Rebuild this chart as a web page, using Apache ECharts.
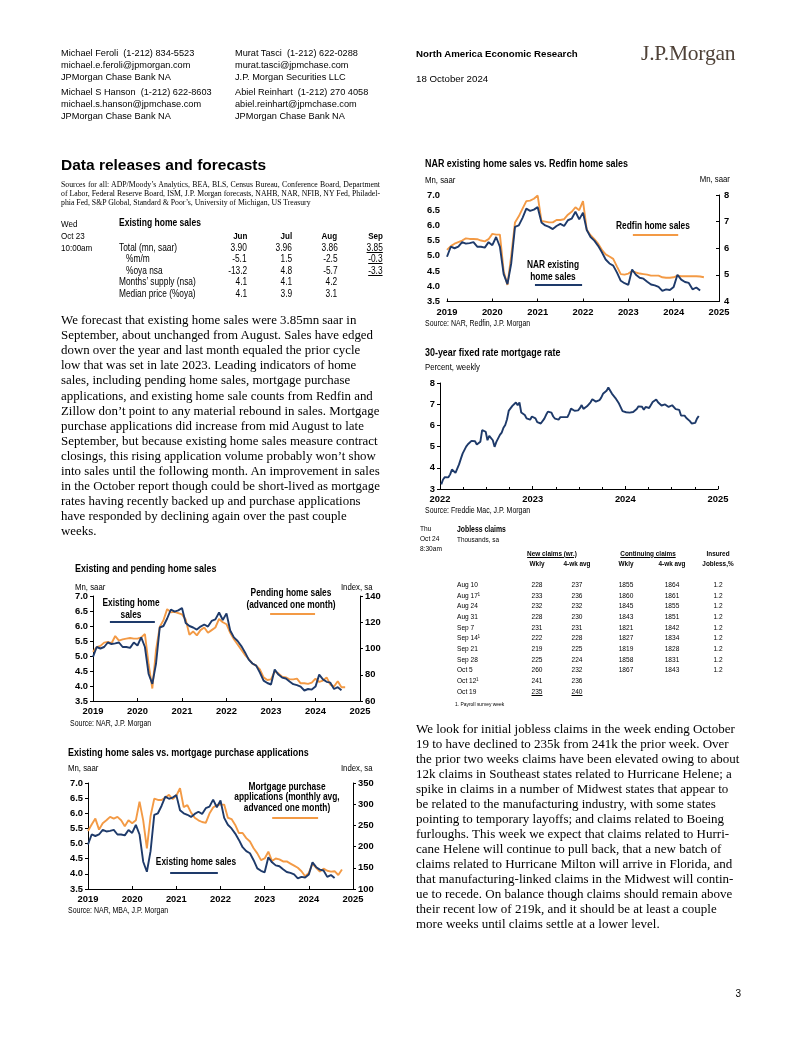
<!DOCTYPE html>
<html><head><meta charset="utf-8">
<script src="https://cdn.jsdelivr.net/npm/echarts@6/dist/echarts.min.js"></script>
<style>
html,body{margin:0;padding:0;background:#fff;}
#page{position:relative;width:802px;height:1037px;overflow:hidden;background:#fff;}
#chart{position:absolute;left:0;top:0;width:802px;height:1037px;}
.t{position:absolute;white-space:nowrap;font-family:'Liberation Sans',Arial,sans-serif;color:#000;}
.s{font-family:'Liberation Serif','Times New Roman',serif;}
.b{font-weight:bold;}
.u{text-decoration:underline;}
</style></head><body>
<div id="page"><div id="chart"></div></div>
<script>
// ---------------- DATA ----------------
// Existing home sales, NAR, Mn saar, monthly from 2019-01
const existingStart = '2019-01';
const existingSales = [
  4.97, 5.30, 5.25, 5.30, 5.45, 5.40, 5.42, 5.45, 5.30, 5.30, 5.27, 5.45,
  5.35, 5.62, 5.30, 4.40, 4.07, 4.75, 5.95, 6.00, 6.25, 6.55, 6.48, 6.52,
  6.60, 6.10, 6.00, 5.95, 5.88, 5.98, 6.05, 5.98, 6.17, 6.22, 6.45, 6.20,
  6.42, 5.85, 5.62, 5.50, 5.33, 5.12, 4.88, 4.75, 4.68, 4.45, 4.18, 4.10,
  4.05, 4.55, 4.38, 4.28, 4.25, 4.15, 4.06, 4.03, 3.98, 3.85, 3.90, 3.88,
  3.98, 4.38, 4.22, 4.14, 4.11, 3.90, 3.96, 3.86
];
// Pending home sales index (advanced one month), monthly from 2019-01
const pendingStart = '2019-01';
const pendingSales = [
  97.5, 101, 102, 104.5, 105, 104, 109.5, 106, 107, 107.5, 108, 107.5,
  107.5, 108.5, 111, 88, 69.5, 99, 116.5, 121.5, 130, 127.5, 128, 127,
  126, 122, 110.5, 113, 110, 114, 116, 112, 114, 116, 122.5, 120,
  118.5, 112, 107, 103, 99, 95, 92, 88.5, 87, 84, 78, 76,
  76.5, 82.5, 81, 78.5, 78, 76.5, 76.5, 77, 73.5, 73.5, 73, 74,
  77, 74.5, 75.5, 78, 72.5, 71, 75, 70.5, 70.5
];
// MBA purchase applications index (monthly avg, advanced one month), from 2019-01
const mbaStart = '2019-01';
const mbaPurchase = [
  237, 252, 266, 240, 255, 262, 270, 266, 270, 262, 248, 262,
  255, 262, 306, 262, 196, 272, 313, 310, 310, 316, 322, 312,
  320, 338, 293, 298, 280, 268, 262, 258, 256, 278, 292, 298,
  299, 299, 268, 265, 251, 232, 232, 220, 212, 196, 184, 168,
  172, 188, 166, 172, 170, 165, 165, 160, 155, 150, 142, 130,
  138, 160, 150, 141, 148, 143, 141, 142, 133, 146
];
// Redfin home sales, Mn saar (right axis), monthly from 2019-01
const redfinStart = '2019-01';
const redfinSales = [
  5.94, 6.08, 6.17, 6.23, 6.29, 6.37, 6.35, 6.35, 6.34, 6.29, 6.26, 6.34,
  6.54, 6.51, 6.51, 5.14, 4.62, 5.71, 6.97, 7.20, 7.49, 7.77, 7.79, 7.86,
  7.98, 7.03, 7.00, 6.97, 6.97, 7.06, 7.06, 7.09, 7.26, 7.37, 7.54, 7.43,
  7.77, 6.69, 6.49, 6.34, 6.17, 5.94, 5.77, 5.69, 5.60, 5.31, 5.03, 5.01,
  5.05, 5.14, 5.09, 5.05, 5.03, 5.01, 4.97, 4.97, 4.97, 4.91, 4.89, 4.89,
  4.91, 4.97, 4.95, 4.95, 4.95, 4.95, 4.95, 4.94, 4.91
];
// 30-year fixed mortgage rate, percent, weekly from 2022-01-06
const rateStart = '2022-01-06';
const mortgageRate = [
  3.22,3.45,3.56,3.55,3.55,3.69,3.92,3.89,3.76,3.85,4.16,4.42,4.67,4.72,5.00,5.11,5.10,5.27,5.30,5.25,
  5.10,5.09,5.23,5.78,5.81,5.70,5.30,5.51,5.54,5.30,4.99,5.22,5.13,5.55,5.66,5.89,6.02,6.29,6.70,6.66,
  6.92,6.94,7.08,6.95,7.08,6.61,6.58,6.49,6.33,6.31,6.27,6.42,
  6.48,6.33,6.15,6.13,6.09,6.12,6.32,6.50,6.65,6.73,6.60,6.42,6.32,6.28,6.27,6.39,6.43,6.39,6.35,6.39,
  6.57,6.79,6.71,6.69,6.67,6.71,6.81,6.96,6.78,6.81,6.90,6.96,7.09,7.23,7.18,7.12,7.18,7.19,7.31,7.49,
  7.57,7.63,7.79,7.76,7.50,7.44,7.29,7.22,7.03,6.95,6.67,6.61,
  6.62,6.66,6.60,6.69,6.63,6.64,6.77,6.90,6.94,6.88,6.74,6.87,6.79,6.82,6.88,7.10,7.17,7.22,7.09,7.02,
  6.94,7.03,6.99,6.95,6.87,6.86,6.95,6.89,6.77,6.78,6.73,6.47,6.49,6.46,6.35,6.35,6.20,6.09,6.08,6.12,
  6.32,6.44
];
// Tables
const ehsMonths = ['Jun','Jul','Aug','Sep'];
const ehsRowLabels = ['Total (mn, saar)','%m/m','%oya nsa','Months\u2019 supply (nsa)','Median price (%oya)'];
const ehsValues = [
  ['3.90','3.96','3.86','3.85'],
  ['-5.1','1.5','-2.5','-0.3'],
  ['-13.2','4.8','-5.7','-3.3'],
  ['4.1','4.1','4.2',''],
  ['4.1','3.9','3.1','']
];
const jcDates = ['Aug 10','Aug 17\u00b9','Aug 24','Aug 31','Sep 7','Sep 14\u00b9','Sep 21','Sep 28','Oct 5','Oct 12\u00b9','Oct 19'];
const jcNewWkly = ['228','233','232','228','231','222','219','225','260','241','235'];
const jcNew4wk = ['237','236','232','230','231','228','225','224','232','236','240'];
const jcContWkly = ['1855','1860','1845','1843','1821','1827','1819','1858','1867'];
const jcCont4wk = ['1864','1861','1855','1851','1842','1834','1828','1831','1843'];
const jcInsured = ['1.2','1.2','1.2','1.2','1.2','1.2','1.2','1.2','1.2'];
const yearTicks1 = [2019, 2025];
const yearTicks2 = [2022, 2025];

// ---------------- TEXT ----------------
const page = document.getElementById('page');
const NSCALE = 0.82; // emulate a narrow face
function T(x, yc, html, fs, cls, align, extra) {
  const d = document.createElement('div');
  cls = cls || '';
  const narrow = / ?n( |$)/.test(cls);
  d.className = 't ' + cls.replace(/(^| )n( |$)/, ' ');
  d.innerHTML = html;
  d.style.fontSize = fs + 'px';
  d.style.lineHeight = fs + 'px';
  d.style.top = (yc - fs / 2) + 'px';
  let tf = '', origin = 'left center';
  if (align === 'r') { d.style.right = (802 - x) + 'px'; origin = 'right center'; }
  else if (align === 'c') { d.style.left = x + 'px'; tf = 'translateX(-50%)'; origin = 'center center'; }
  else d.style.left = x + 'px';
  if (narrow) tf += ' scaleX(' + NSCALE + ')';
  if (tf) { d.style.transform = tf; d.style.transformOrigin = origin; }
  if (extra) Object.assign(d.style, extra);
  page.appendChild(d);
  return d;
}
function P(x, y0, lh, lines, fs, cls, align) {
  return lines.map((l, i) => T(x, y0 + i * lh, l, fs, cls, align));
}
// header
P(61, 54, 11.9, ['Michael Feroli&nbsp; (1-212) 834-5523','michael.e.feroli@jpmorgan.com','JPMorgan Chase Bank NA'], 9.2, '');
P(61, 92.5, 11.9, ['Michael S Hanson&nbsp; (1-212) 622-8603','michael.s.hanson@jpmchase.com','JPMorgan Chase Bank NA'], 9.2, '');
P(235, 54, 11.9, ['Murat Tasci&nbsp; (1-212) 622-0288','murat.tasci@jpmchase.com','J.P. Morgan Securities LLC'], 9.2, '');
P(235, 92.5, 11.9, ['Abiel Reinhart&nbsp; (1-212) 270 4058','abiel.reinhart@jpmchase.com','JPMorgan Chase Bank NA'], 9.2, '');
T(416, 54, 'North America Economic Research', 9.7, 'b');
T(416, 79, '18 October 2024', 9.7, '');
T(641, 54, 'J.P.Morgan', 21.5, 's', null, {color:'#4f4238', letterSpacing:'-0.2px'});
// section
T(61, 165, 'Data releases and forecasts', 15.5, 'b');
const src = [
  'Sources for all: ADP/Moody\u2019s Analytics, BEA, BLS, Census Bureau, Conference Board, Department',
  'of Labor, Federal Reserve Board, ISM, J.P. Morgan forecasts, NAHB, NAR, NFIB, NY Fed, Philadel-',
  'phia Fed, S&amp;P Global, Standard &amp; Poor\u2019s, University of Michigan, US Treasury'
];
const srcEls = P(61, 185.5, 8.7, src, 8.2, 's');
(function fitSources() {
  const target = 319;
  const w0 = srcEls[0].getBoundingClientRect().width;
  const fs = Math.min(9, 8.2 * (target - 4) / w0);
  srcEls.forEach((el, i) => { el.style.fontSize = fs + 'px'; });
  [0, 1].forEach(i => {
    const el = srcEls[i];
    const w = el.getBoundingClientRect().width;
    const spaces = (el.textContent.match(/ /g) || []).length;
    if (spaces) el.style.wordSpacing = ((target - w) / spaces) + 'px';
  });
})();
// existing home sales table
T(61, 224, 'Wed', 9.8, 'n'); T(61, 235.5, 'Oct 23', 9.8, 'n'); T(61, 248, '10:00am', 9.8, 'n');
T(119, 223, 'Existing home sales', 10.4, 'n b');
const ehsRight = [247, 292, 337.5, 383];
ehsMonths.forEach((m, j) => T(ehsRight[j], 235.5, m, 9.8, 'n b', 'r'));
const ehsY = [248, 259.5, 271, 282.5, 294];
const ehsX = [118.5, 125.5, 125.5, 118.5, 118.5];
ehsRowLabels.forEach((l, i) => {
  T(ehsX[i], ehsY[i], l, 10.2, 'n');
  ehsValues[i].forEach((v, j) => { if (v) T(ehsRight[j], ehsY[i], v, 10.2, 'n' + (j === 3 ? ' u' : ''), 'r'); });
});
// paragraph 1
P(61, 320.5, 15.1, [
  'We forecast that existing home sales were 3.85mn saar in',
  'September, about unchanged from August. Sales have edged',
  'down over the year and last month equaled the prior cycle',
  'low that was set in late 2023. Leading indicators of home',
  'sales, including pending home sales, mortgage purchase',
  'applications, and existing home sale counts from Redfin and',
  'Zillow don\u2019t point to any material rebound in sales. Mortgage',
  'purchase applications did increase from mid August to late',
  'September, but because existing home sales measure contract',
  'closings, this rising application volume probably won\u2019t show',
  'into sales until the following month. An improvement in sales',
  'in the October report though could be short-lived as mortgage',
  'rates having recently backed up and purchase applications',
  'have responded by declining again over the past couple',
  'weeks.'
], 12.9, 's');
// paragraph 2
P(416, 728, 15.05, [
  'We look for initial jobless claims in the week ending October',
  '19 to have declined to 235k from 241k the prior week. Over',
  'the prior two weeks claims have been elevated owing to about',
  '12k claims in Southeast states related to Hurricane Helene; a',
  'spike in claims in a number of Midwest states that appear to',
  'be related to the manufacturing industry, with some states',
  'pointing to temporary layoffs; and claims related to Boeing',
  'furloughs. This week we expect that claims related to Hurri-',
  'cane Helene will continue to pull back, that a new batch of',
  'claims related to Hurricane Milton will arrive in Florida, and',
  'that manufacturing-linked claims in the Midwest will contin-',
  'ue to recede. On balance though claims should remain above',
  'their recent low of 219k, and it should be at least a couple',
  'more weeks until claims settle at a lower level.'
], 13.0, 's');
// jobless claims table
T(420, 528.5, 'Thu', 8, 'n'); T(420, 539, 'Oct 24', 8, 'n'); T(420, 549, '8:30am', 8, 'n');
T(457, 529, 'Jobless claims', 8.4, 'n b');
T(457, 540, 'Thousands, sa', 7.8, 'n');
T(552, 553.5, 'New claims (wr.)', 7.8, 'n b u', 'c');
T(647.5, 553.5, 'Continuing claims', 7.8, 'n b u', 'c');
T(718, 553.5, 'Insured', 7.8, 'n b', 'c');
T(537, 563.5, 'Wkly', 7.8, 'n b', 'c'); T(577, 563.5, '4-wk avg', 7.8, 'n b', 'c');
T(626, 563.5, 'Wkly', 7.8, 'n b', 'c'); T(672, 563.5, '4-wk avg', 7.8, 'n b', 'c');
T(718, 563.5, 'Jobless,%', 7.8, 'n b', 'c');
jcDates.forEach((d, i) => {
  const y = 585 + i * 10.67;
  const last = i === jcDates.length - 1;
  T(457, y, d, 8, 'n');
  T(537, y, jcNewWkly[i], 8, 'n' + (last ? ' u' : ''), 'c');
  T(577, y, jcNew4wk[i], 8, 'n' + (last ? ' u' : ''), 'c');
  if (i < jcContWkly.length) {
    T(626, y, jcContWkly[i], 8, 'n', 'c');
    T(672, y, jcCont4wk[i], 8, 'n', 'c');
    T(718, y, jcInsured[i], 8, 'n', 'c');
  }
});
T(455, 703.5, '1. Payroll survey week', 6, 'n');
T(741, 994, '3', 10, '', 'r');
// chart 3 (NAR vs Redfin)
T(425, 163.5, 'NAR existing home sales vs. Redfin home sales', 10.9, 'n b');
T(425, 179.5, 'Mn, saar', 9.5, 'n');
T(730, 179, 'Mn, saar', 9.5, 'n', 'r');
T(425, 323.5, 'Source: NAR, Redfin, J.P. Morgan', 8.5, 'n');
T(653, 226, 'Redfin home sales', 10.2, 'n b', 'c');
T(553, 265, 'NAR existing', 10.2, 'n b', 'c');
T(553, 277, 'home sales', 10.2, 'n b', 'c');
// chart 4 (mortgage rate)
T(425, 352, '30-year fixed rate mortgage rate', 10.9, 'n b');
T(425, 366.5, 'Percent, weekly', 9.5, 'n');
T(425, 510.5, 'Source: Freddie Mac, J.P. Morgan', 8.5, 'n');
// chart 1 (existing and pending)
T(75, 568.5, 'Existing and pending home sales', 10.9, 'n b');
T(75, 587, 'Mn, saar', 9.5, 'n');
T(373, 587, 'Index, sa', 9.5, 'n', 'r');
T(70, 723, 'Source: NAR, J.P. Morgan', 8.5, 'n');
T(130.5, 603.5, 'Existing home', 10.2, 'n b', 'c');
T(130.5, 615, 'sales', 10.2, 'n b', 'c');
T(291, 593.5, 'Pending home sales', 10.2, 'n b', 'c');
T(291, 605, '(advanced one month)', 10.2, 'n b', 'c');
// chart 2 (existing vs MBA)
T(68, 752, 'Existing home sales vs. mortgage purchase applications', 10.9, 'n b');
T(68, 767.5, 'Mn, saar', 9.5, 'n');
T(373, 767.5, 'Index, sa', 9.5, 'n', 'r');
T(68, 910.5, 'Source: NAR, MBA, J.P. Morgan', 8.5, 'n');
T(286.5, 787, 'Mortgage purchase', 10.2, 'n b', 'c');
T(286.5, 797.5, 'applications (monthly avg,', 10.2, 'n b', 'c');
T(286.5, 808.5, 'advanced one month)', 10.2, 'n b', 'c');
T(196, 862.5, 'Existing home sales', 10.2, 'n b', 'c');

// ---------------- CHART ----------------
const NAVY = '#1e3a6a', ORANGE = '#f39a45';
const FONT = "'Liberation Sans',Arial,sans-serif";
function monthX(start, i) { const [y, m] = start.split('-').map(Number); return y + (m - 1 + i) / 12; }
function weekX(start, i) {
  const t = Date.parse(start + 'T00:00:00Z') + i * 7 * 864e5;
  const d = new Date(t); const y = d.getUTCFullYear();
  const s = Date.UTC(y, 0, 1), e = Date.UTC(y + 1, 0, 1);
  return y + (t - s) / (e - s);
}
const monthly = (start, arr) => arr.map((v, i) => [monthX(start, i), v]);
const weekly = (start, arr) => arr.map((v, i) => [weekX(start, i), v]);

const lbl = { color: '#000', fontFamily: FONT, fontWeight: 'bold', fontSize: 9.4 };
const axLine = { show: true, lineStyle: { color: '#000', width: 1 } };
function xAx(g, ticks, extra) {
  return Object.assign({
    type: 'value', gridIndex: g, min: ticks[0], max: ticks[1], interval: 1,
    axisLine: axLine, axisTick: { show: true, inside: true, length: 3, lineStyle: { color: '#000' } },
    axisLabel: Object.assign({ margin: 6, formatter: v => String(v) }, lbl),
    splitLine: { show: false }
  }, extra || {});
}
function yAx(g, pos, min, max, step, dec, extra) {
  return Object.assign({
    type: 'value', gridIndex: g, position: pos, min: min, max: max, interval: step,
    axisLine: axLine, axisTick: { show: true, length: 3, lineStyle: { color: '#000' } },
    axisLabel: Object.assign({ margin: 5, formatter: v => v.toFixed(dec) }, lbl),
    splitLine: { show: false }
  }, extra || {});
}
function arrow(color, from, to) {
  return {
    silent: true, animation: false, symbol: ['none', 'arrow'], symbolSize: [0, 9],
    label: { show: false }, lineStyle: { color: color, width: 2, type: 'solid' },
    emphasis: { disabled: true },
    data: [[{ coord: from }, { coord: to }]]
  };
}
function line(name, data, color, xi, yi, ml) {
  const s = { name: name, type: 'line', data: data, xAxisIndex: xi, yAxisIndex: yi, showSymbol: false,
    lineStyle: { color: color, width: 1.9 }, itemStyle: { color: color }, animation: false, silent: true, z: 3 };
  if (ml) s.markLine = ml;
  return s;
}
const chart = echarts.init(document.getElementById('chart'), null, { renderer: 'canvas' });
chart.setOption({
  backgroundColor: 'transparent',
  animation: false,
  grid: [
    { left: 93, top: 596, width: 267, height: 105 },
    { left: 88, top: 783, width: 265, height: 106 },
    { left: 447, top: 195, width: 272, height: 106.5 },
    { left: 440, top: 383, width: 278, height: 106 }
  ],
  xAxis: [
    xAx(0, yearTicks1), xAx(1, yearTicks1), xAx(2, yearTicks1),
    xAx(3, yearTicks2, { minorTick: { show: true, splitNumber: 4, length: 2, lineStyle: { color: '#000' } } })
  ],
  yAxis: [
    yAx(0, 'left', 3.5, 7.0, 0.5, 1),
    yAx(0, 'right', 60, 140, 20, 0),
    yAx(1, 'left', 3.5, 7.0, 0.5, 1),
    yAx(1, 'right', 100, 350, 50, 0),
    yAx(2, 'left', 3.5, 7.0, 0.5, 1, { axisLine: { show: false }, axisTick: { show: false }, axisLabel: Object.assign({ margin: 7, formatter: v => v.toFixed(1) }, lbl) }),
    yAx(2, 'right', 4, 8, 1, 0, { axisTick: { show: true, inside: true, length: 3, lineStyle: { color: '#000' } } }),
    yAx(3, 'left', 3, 8, 1, 0)
  ],
  series: [
    line('Pending home sales', monthly(pendingStart, pendingSales), ORANGE, 0, 1, arrow(ORANGE, [2022.98, 126.3], [2023.99, 126.3])),
    line('Existing home sales', monthly(existingStart, existingSales), NAVY, 0, 0, arrow(NAVY, [2020.39, 6.13], [2019.38, 6.13])),
    line('Mortgage purchase applications', monthly(mbaStart, mbaPurchase), ORANGE, 1, 3, arrow(ORANGE, [2023.17, 267], [2024.21, 267])),
    line('Existing home sales', monthly(existingStart, existingSales), NAVY, 1, 2, arrow(NAVY, [2021.94, 4.03], [2020.86, 4.03])),
    line('Redfin home sales', monthly(redfinStart, redfinSales), ORANGE, 2, 5, arrow(ORANGE, [2023.10, 6.5], [2024.10, 6.5])),
    line('NAR existing home sales', monthly(existingStart, existingSales), NAVY, 2, 4, arrow(NAVY, [2021.98, 4.05], [2020.94, 4.05])),
    line('30-year fixed mortgage rate', weekly(rateStart, mortgageRate), NAVY, 3, 6)
  ]
});
</script>
</body></html>
